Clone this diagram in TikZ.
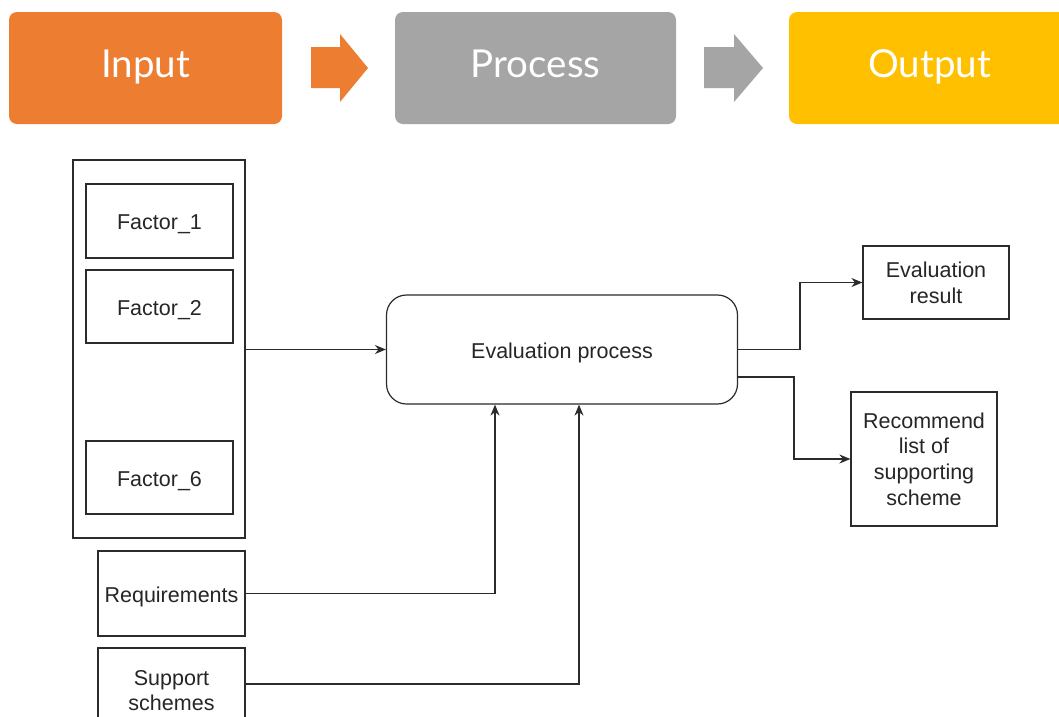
\documentclass[tikz,border=0pt]{standalone}
\usepackage{fontspec}
\setmainfont{Liberation Sans}
\newfontfamily\topfont{Lato}
\usetikzlibrary{arrows.meta}
\definecolor{inorange}{HTML}{ED7D31}
\definecolor{procgray}{HTML}{A5A5A5}
\definecolor{outyellow}{HTML}{FFC000}
\definecolor{linecol}{HTML}{2B2B2B}
\tikzset{
  stage/.style={rounded corners=8pt, minimum height=112pt, inner sep=0pt, text=white,
    text height=27pt, text depth=9pt,
    font=\topfont\fontsize{38.5}{40}\selectfont},
  plainbox/.style={draw=linecol, line width=1.2pt, inner sep=0pt, text=black!85,
    align=center, font=\fontsize{21.5}{25.7}\selectfont},
  oneline/.style={text height=17pt, text depth=0pt},
  conn/.style={draw=linecol, line width=1.4pt, -{Stealth[length=11pt,width=9pt]}},
}
\begin{document}
\begin{tikzpicture}[x=1pt,y=-1pt]
\useasboundingbox (0,0) rectangle (1059,716);
\clip (0,0) rectangle (1059,716);
\fill[white] (0,0) rectangle (1059,716);
% top stages
\node[stage, fill=inorange, minimum width=273pt] (input) at (145.5,68) {Input};
\node[stage, fill=procgray, minimum width=281pt] (process) at (535.5,68) {Process};
\node[stage, fill=outyellow, minimum width=281pt] (output) at (929.5,68) {Output};
% block arrows
\fill[inorange] (311,47) -- (340,47) -- (340,34) -- (368,68) -- (340,102) -- (340,88) -- (311,88) -- cycle;
\fill[procgray] (704,47) -- (734,47) -- (734,34) -- (763,68) -- (734,102) -- (734,88) -- (704,88) -- cycle;
% lower diagram
\node[plainbox, minimum width=172pt, minimum height=378pt] (factors) at (159,349) {};
\node[plainbox, oneline, minimum width=147pt, minimum height=74pt] (f1) at (159.5,221) {Factor\_1};
\node[plainbox, oneline, minimum width=147pt, minimum height=73pt] (f2) at (159.5,306.5) {Factor\_2};
\node[plainbox, oneline, minimum width=147pt, minimum height=73pt] (f6) at (159.5,477.5) {Factor\_6};
\node[plainbox, oneline, rounded corners=20pt, minimum width=351pt, minimum height=109pt] (eval) at (562,349.5) {Evaluation process};
\node[plainbox, minimum width=146pt, minimum height=73pt] (result) at (936,282.5) {Evaluation\\result};
\node[plainbox, minimum width=146pt, minimum height=134pt] (recommend) at (924,459) {Recommend\\list of\\supporting\\scheme};
\node[plainbox, oneline, minimum width=147pt, minimum height=85pt] (req) at (171.5,593.5) {Requirements};
\node[plainbox, minimum width=147pt, minimum height=85pt] (sup) at (171.5,690.5) {Support\\schemes};
% connectors
\draw[conn] (factors.east |- eval.west) -- (eval.west);
\draw[conn] (eval.east) -- ++(62,0) |- (result.west);
\draw[conn] ([yshift=-27.5pt]eval.east) -- ++(56,0) |- (recommend.west);
\draw[conn] (req.east) -| ([xshift=-67pt]eval.south);
\draw[conn] (sup.east |- 0,684) -| ([xshift=17pt]eval.south);
\end{tikzpicture}
\end{document}
